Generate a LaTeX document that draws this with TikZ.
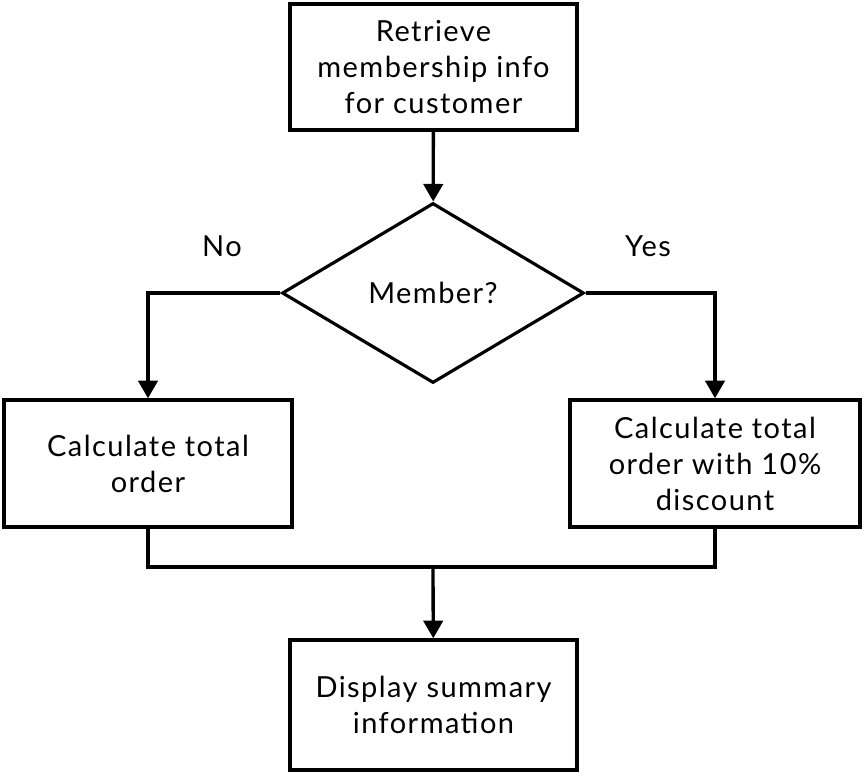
\documentclass[tikz,border=0pt]{standalone}
\usepackage{fontspec}
\setmainfont{Lato}[LetterSpace=5]
\usetikzlibrary{shapes.geometric,arrows.meta}

\begin{document}
\begin{tikzpicture}[x=0.02cm,y=-0.02cm,
    txt/.style={font=\fontsize{16.5}{20.5}\selectfont},
    box/.style={txt,draw,line width=2pt,align=center,inner sep=0pt},
    decision/.style={txt,draw,diamond,line width=1.8pt,inner sep=0pt,aspect=1.68},
    link/.style={line width=1.9pt},
    flow/.style={link,-{Triangle[width=11pt,length=10pt]}}]
      \useasboundingbox (0,0) rectangle (864,777);

      % Boxes
      \node[box,minimum width=5.74cm,minimum height=2.52cm] (retrieve) at (433.5,67)
        {Retrieve\\membership info\\for customer};
      \node[decision,minimum width=6.04cm,minimum height=3.6cm] (member) at (433,293) {Member?};
      \node[box,minimum width=5.76cm,minimum height=2.54cm] (total) at (148,463.5)
        {Calculate total\\order};
      \node[box,minimum width=5.8cm,minimum height=2.54cm] (discount) at (715,463.5)
        {Calculate total\\order with 10\%\\discount};
      \node[box,minimum width=5.74cm,minimum height=2.6cm] (display) at (433.5,705)
        {Display summary\\information};

      % Branch labels
      \node[txt] (no) at (222,246) {No};
      \node[txt] (yes) at (648,246) {Yes};

      % Connect them
      \draw[flow] (retrieve) -- (member);
      \draw[flow] (member.west) -| (total);
      \draw[flow] (member.east) -| (discount);
      \coordinate (merge) at (433,567);
      \draw[link] (total.south) |- (merge) -| (discount.south);
      \draw[flow] (merge) -- (display);
    \end{tikzpicture}
\end{document}
